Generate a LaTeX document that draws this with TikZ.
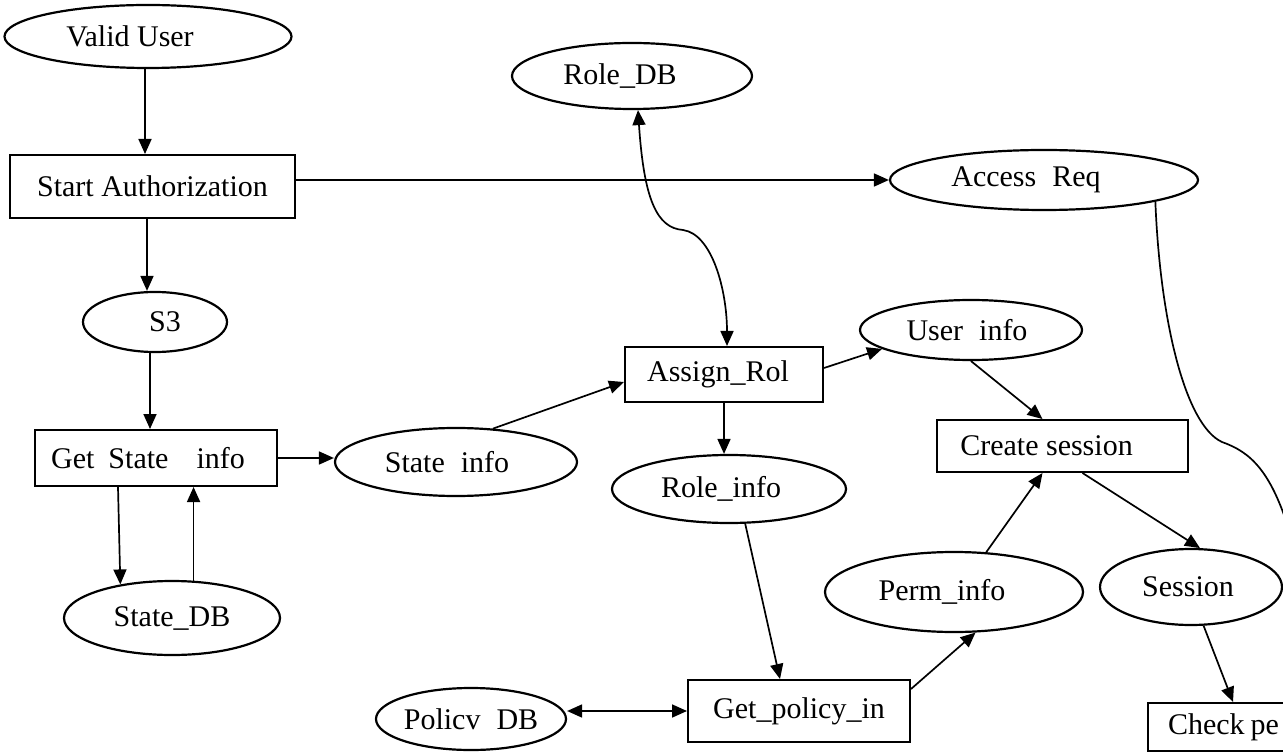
\documentclass[tikz,border=0pt]{standalone}
\usepackage{fontspec}
\setmainfont{Liberation Serif}
\usetikzlibrary{shapes.geometric,arrows.meta}
\begin{document}
\begin{tikzpicture}[x=0.5pt,y=-0.5pt,
  font=\fontsize{15pt}{18pt}\selectfont,
  ell/.style={draw, ellipse, inner sep=0pt, line width=1.1pt},
  box/.style={draw, rectangle, inner sep=0pt, line width=1pt},
  arr/.style={-{Triangle[length=7.5pt,width=6.5pt]}, line width=0.85pt},
  darr/.style={{Triangle[length=7.5pt,width=6.5pt]}-{Triangle[length=7.5pt,width=6.5pt]}, line width=0.85pt},
  plain/.style={line width=0.85pt}]
\useasboundingbox (0,0) rectangle (1283,753);
\clip (0,0) rectangle (1283,753);
\fill[white] (0,0) rectangle (1283,753);

% nodes
\node[ell, minimum width=143.5pt, minimum height=31.5pt] (vu) at (148,36.5) {Valid User\hspace*{18pt}};
\node[box, minimum width=142.5pt, minimum height=31.5pt] (sa) at (152.5,186.5) {Start Authorization};
\node[ell, minimum width=72pt, minimum height=30pt] (s3) at (155,322) {\hspace*{10pt}S3};
\node[box, minimum width=121pt, minimum height=28pt] (gs) at (156,458) {Get\hspace{7pt}State\hspace{14pt}info\hspace*{8pt}};
\node[ell, minimum width=121pt, minimum height=34pt] (si) at (456,462) {State\hspace{8pt}info\hspace*{9pt}};
\node[ell, minimum width=108pt, minimum height=37pt] (sdb) at (172,618) {State\_DB};
\node[ell, minimum width=120pt, minimum height=33pt] (rdb) at (632,76) {Role\_DB\hspace*{12pt}};
\node[box, minimum width=99pt, minimum height=27.5pt] (ar) at (724,374.5) {Assign\_Rol\hspace*{6pt}};
\node[ell, minimum width=117pt, minimum height=34pt] (ri) at (729,489) {Role\_info\hspace*{8pt}};
\node[ell, minimum width=111pt, minimum height=30pt] (ui) at (971,330) {User\hspace{8pt}info\hspace*{4pt}};
\node[ell, minimum width=154pt, minimum height=30pt] (acc) at (1044,180) {Access\hspace{8pt}Req\hspace*{18pt}};
\node[box, minimum width=125.5pt, minimum height=26pt] (cs) at (1062.5,446) {Create session\hspace*{16pt}};
\node[ell, minimum width=129pt, minimum height=40pt] (pi) at (954,592) {Perm\_info\hspace*{12pt}};
\node[ell, minimum width=91pt, minimum height=38pt] (ses) at (1191,587) {Session\hspace*{3pt}};
\node[ell, minimum width=94pt, minimum height=31pt] (pdb) at (471,719) {Policv\hspace{8pt}DB};
\node[box, minimum width=111pt, minimum height=31pt] (gp) at (799,711) {Get\_policy\_in};
\node[box, anchor=north west, inner xsep=10pt, text width=130pt, align=left, minimum height=24pt] (cp) at (1147,702) {Check\hspace{3pt}pe};

% connectors
\draw[arr] ([xshift=-1.5pt]vu.south) -- ([xshift=-3.75pt]sa.north);
\draw[arr] (sa.east |- acc.west) -- (acc.west);
\draw[arr] ([xshift=-2.75pt]sa.south) -- ([xshift=-4pt]s3.north);
\draw[arr] ([xshift=-2.5pt]s3.south) -- ([xshift=-3pt]gs.north);
\draw[arr] (gs.east) -- (gs.east -| si.west);
\draw[arr] ([xshift=-19pt]gs.south) -- (sdb.147);
\draw[arr] (sdb.60) -- (sdb.60 |- gs.south);
\draw[arr] (si.42) -- ([yshift=-3.75pt]ar.west);
\draw[darr] ([xshift=3pt]rdb.south) .. controls (644,200) and (657,228) .. (683,230) .. controls (712,234) and (727,290) .. ([xshift=1.5pt]ar.north);
\draw[arr] ([yshift=3.25pt]ar.east) -- (ui.192);
\draw[arr] (ui.south) -- ([xshift=-10pt]cs.north);
\draw[arr] (ar.south) -- (ar.south |- ri.north);
\draw[arr] (ri.-65) -- ([xshift=-9.5pt]gp.north);
\draw[darr] (pdb.east |- gp.west) -- (gp.west);
\draw[arr] ([yshift=-5pt]gp.north east) -- (pi.-62);
\draw[arr] (pi.51) -- ([xshift=-10pt]cs.south);
\draw[arr] ([xshift=10pt]cs.south) -- (ses.77);
\draw[arr] (ses.-72) -- ([xshift=43pt]cp.north west);
\coordinate (off) at (1292,540);
\draw[plain] (acc.-11) .. controls (1160,320) and (1185,425) .. (1222,442) .. controls (1250,452) and (1272,470) .. (off);
\end{tikzpicture}
\end{document}
